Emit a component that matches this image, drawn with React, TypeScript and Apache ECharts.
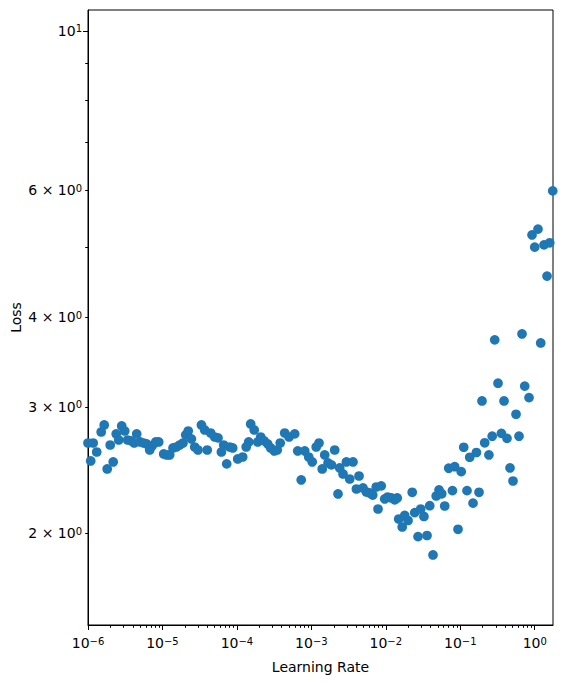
import React, { useEffect, useRef } from "react";
import * as echarts from "echarts";

// Learning-rate finder results
const learningRates: number[] = [
  1.0e-6, 1.087e-6, 1.174e-6, 1.309e-6, 1.504e-6, 1.651e-6, 1.811e-6, 1.987e-6, 2.18e-6, 2.392e-6,
  2.585e-6, 2.836e-6, 3.112e-6, 3.414e-6, 3.804e-6, 4.174e-6, 4.51e-6, 5.025e-6, 5.601e-6, 6.143e-6,
  6.741e-6, 7.283e-6, 8.117e-6, 8.905e-6, 1.039e-5, 1.141e-5, 1.252e-5, 1.386e-5, 1.539e-5, 1.705e-5,
  1.888e-5, 2.053e-5, 2.218e-5, 2.448e-5, 2.712e-5, 3.003e-5, 3.337e-5, 3.693e-5, 3.991e-5, 4.447e-5,
  5.033e-5, 5.573e-5, 6.191e-5, 6.648e-5, 7.295e-5, 8.005e-5, 8.782e-5, 1.025e-4, 1.196e-4, 1.333e-4,
  1.44e-4, 1.532e-4, 1.708e-4, 1.903e-4, 2.088e-4, 2.327e-4, 2.593e-4, 2.844e-4, 3.17e-4, 3.477e-4,
  3.815e-4, 4.385e-4, 5.01e-4, 5.976e-4, 6.556e-4, 7.306e-4, 8.145e-4, 9.214e-4, 1.027e-3, 1.162e-3,
  1.267e-3, 1.399e-3, 1.511e-3, 1.674e-3, 1.859e-3, 2.059e-3, 2.28e-3, 2.403e-3, 2.662e-3, 2.956e-3,
  3.274e-3, 3.626e-3, 4.028e-3, 4.365e-3, 4.939e-3, 5.488e-3, 6.077e-3, 6.668e-3, 7.43e-3, 7.856e-3,
  8.675e-3, 9.665e-3, 1.06e-2, 1.189e-2, 1.317e-2, 1.423e-2, 1.49e-2, 1.661e-2, 1.794e-2, 1.988e-2,
  2.262e-2, 2.445e-2, 2.707e-2, 2.943e-2, 3.25e-2, 3.576e-2, 3.888e-2, 4.305e-2, 4.753e-2, 5.184e-2,
  5.636e-2, 6.182e-2, 6.997e-2, 7.846e-2, 8.423e-2, 9.328e-2, 0.103, 0.1113, 0.1232, 0.1339,
  0.1484, 0.1648, 0.1786, 0.1959, 0.213, 0.2425, 0.2686, 0.2902, 0.3214, 0.357,
  0.387, 0.4245, 0.4658, 0.511, 0.5608, 0.6152, 0.6751, 0.734, 0.8383, 0.9198,
  1.0, 1.107, 1.204, 1.333, 1.463, 1.591, 1.745,
];

const losses: number[] = [
  2.672, 2.523, 2.672, 2.596, 2.768, 2.831, 2.459, 2.655, 2.515, 2.751,
  2.698, 2.822, 2.777, 2.698, 2.69, 2.672, 2.751, 2.681, 2.672, 2.664,
  2.613, 2.647, 2.681, 2.681, 2.58, 2.572, 2.572, 2.63, 2.638, 2.655,
  2.672, 2.742, 2.777, 2.707, 2.638, 2.613, 2.831, 2.786, 2.613, 2.759,
  2.724, 2.716, 2.596, 2.655, 2.499, 2.638, 2.63, 2.539, 2.555, 2.638,
  2.681, 2.84, 2.786, 2.681, 2.724, 2.69, 2.664, 2.63, 2.605, 2.613,
  2.672, 2.759, 2.724, 2.751, 2.605, 2.374, 2.605, 2.555, 2.515, 2.638,
  2.672, 2.459, 2.572, 2.507, 2.491, 2.613, 2.27, 2.467, 2.42, 2.515,
  2.381, 2.515, 2.306, 2.404, 2.314, 2.284, 2.277, 2.262, 2.321, 2.163,
  2.329, 2.234, 2.248, 2.241, 2.227, 2.241, 2.095, 2.042, 2.119, 2.085,
  2.282, 2.138, 1.98, 2.163, 2.112, 1.987, 2.186, 1.867, 2.255, 2.299,
  2.271, 2.184, 2.465, 2.294, 2.477, 2.027, 2.438, 2.636, 2.294, 2.553,
  2.204, 2.592, 2.282, 3.057, 2.674, 2.572, 2.731, 3.718, 3.236, 2.756,
  3.057, 2.712, 2.467, 2.366, 2.93, 2.731, 3.789, 3.206, 3.09, 5.202,
  5.003, 5.3, 3.681, 5.04, 4.56, 5.073, 5.99,
];

// Axis limits and ticks
const xLimits = [1e-6, 1.76];
const yLimits = [1.492, 10.69];
const xMajorTicks = [1e-6, 1e-5, 1e-4, 1e-3, 1e-2, 1e-1, 1e0];
const yMajorTicks = [10];
const yLabelTicks = [2, 3, 4, 6, 10];
const minorMantissas = [2, 3, 4, 5, 6, 7, 8, 9];

const FONT = "DejaVu Sans";
const MINUS = "\u2212";

export default function App() {
  const ref = useRef<HTMLDivElement>(null);

  useEffect(() => {
    if (!ref.current) return;
    const chart = echarts.init(ref.current, null, { renderer: "svg" });
    const L = (v: number) => Math.log10(v);

    const xMinor: number[] = [];
    for (let e = -6; e <= 0; e++) {
      for (const m of minorMantissas) {
        const v = m * Math.pow(10, e);
        if (v <= xLimits[1]) xMinor.push(L(v));
      }
    }
    const yMinor: number[] = [];
    for (const m of minorMantissas) yMinor.push(L(m));

    const rich = {
      b: { fontFamily: FONT, fontSize: 14, color: "#000", lineHeight: 14, verticalAlign: "bottom" },
      s: { fontFamily: FONT, fontSize: 10, color: "#000", lineHeight: 10, verticalAlign: "top", padding: [0, 0, 7, 0] },
    };

    const xMin = L(xLimits[0]);
    const xMax = L(xLimits[1]);
    const yMin = L(yLimits[0]);
    const yMax = L(yLimits[1]);

    const tickStyle = { color: "#000", width: 1 };

    chart.setOption({
      animation: false,
      backgroundColor: "#fff",
      grid: {
        left: 88,
        right: 10,
        top: 10,
        bottom: 58,
        show: true,
        borderColor: "#000",
        borderWidth: 1,
        backgroundColor: "transparent",
        containLabel: false,
        outerBoundsMode: "none",
      },
      xAxis: [
        {
          type: "value",
          min: xMin,
          max: xMax,
          position: "bottom",
          name: "Learning Rate",
          nameLocation: "middle",
          nameGap: 35,
          nameMoveOverlap: false,
          nameTextStyle: { fontFamily: FONT, fontSize: 14, color: "#000" },
          axisLine: { show: true, onZero: false, lineStyle: { color: "#000", width: 1 } },
          axisTick: {
            show: true,
            length: 5,
            lineStyle: tickStyle,
            customValues: xMajorTicks.map(L),
          },
          axisLabel: {
            show: true,
            margin: 11,
            customValues: xMajorTicks.map(L),
            formatter: (v: number) => {
              const e = Math.round(v);
              const exp = e < 0 ? MINUS + Math.abs(e) : String(e);
              return `{b|10}{s|${exp}}`;
            },
            rich,
          },
          splitLine: { show: false },
        },
        {
          type: "value",
          min: xMin,
          max: xMax,
          position: "bottom",
          axisLine: { show: false, onZero: false },
          axisTick: { show: true, length: 2.8, lineStyle: tickStyle, customValues: xMinor },
          axisLabel: { show: false },
          splitLine: { show: false },
        },
      ],
      yAxis: [
        {
          type: "value",
          min: yMin,
          max: yMax,
          position: "left",
          name: "Loss",
          nameLocation: "middle",
          nameGap: 65,
          nameMoveOverlap: false,
          nameRotate: 90,
          nameTextStyle: { fontFamily: FONT, fontSize: 14, color: "#000" },
          axisLine: { show: true, onZero: false, lineStyle: { color: "#000", width: 1 } },
          axisTick: { show: true, length: 5, lineStyle: tickStyle, customValues: yMajorTicks.map(L) },
          axisLabel: {
            show: true,
            margin: 6,
            customValues: yLabelTicks.map(L),
            formatter: (v: number) => {
              const val = Math.round(Math.pow(10, v));
              if (val === 10) return `{b|10}{s|1}`;
              return `{b|${val} × 10}{s|0}`;
            },
            rich,
          },
          splitLine: { show: false },
        },
        {
          type: "value",
          min: yMin,
          max: yMax,
          position: "left",
          axisLine: { show: false, onZero: false },
          axisTick: { show: true, length: 2.8, lineStyle: tickStyle, customValues: yMinor },
          axisLabel: { show: false },
          splitLine: { show: false },
        },
      ],
      series: [
        {
          type: "scatter",
          xAxisIndex: 0,
          yAxisIndex: 0,
          symbol: "circle",
          symbolSize: 9.7,
          clip: true,
          itemStyle: { color: "#1f77b4", opacity: 1 },
          data: learningRates.map((lr, i) => [L(lr), L(losses[i])]),
        },
      ],
    });

    return () => chart.dispose();
  }, []);

  return (
    <div
      ref={ref}
      style={{ position: "absolute", left: 0, top: 0, width: 563, height: 683 }}
    />
  );
}
